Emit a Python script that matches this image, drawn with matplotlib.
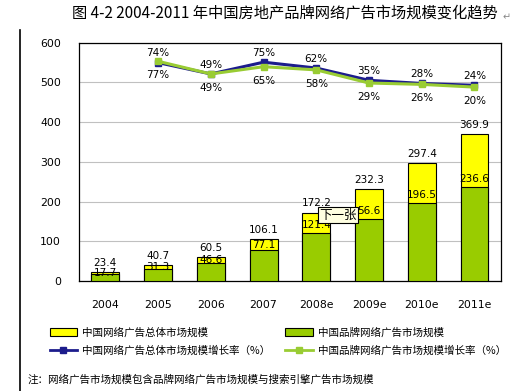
import matplotlib.pyplot as plt
import numpy as np
from matplotlib.patches import Patch
from matplotlib.lines import Line2D

plt.rcParams['font.family'] = ['Noto Sans CJK SC', 'DejaVu Sans']

years = ['2004', '2005', '2006', '2007', '2008e', '2009e', '2010e', '2011e']
total = [23.4, 40.7, 60.5, 106.1, 172.2, 232.3, 297.4, 369.9]
brand = [17.7, 31.3, 46.6, 77.1, 121.4, 156.6, 196.5, 236.6]
total_growth = [np.nan, 74, 49, 75, 62, 35, 28, 24]
brand_growth = [np.nan, 77, 49, 65, 58, 29, 26, 20]
brand_labels = ['17.7', '31.3', '46.6', '77.1', '121.4', '56.6', '196.5', '236.6']

YELLOW = '#FFFF00'
GREEN = '#99CC00'
NAVY = '#1C1C8C'
LGREEN = '#99CC33'

fig = plt.figure(figsize=(5.28, 3.91), dpi=100)
ax = fig.add_axes([0.1496, 0.2813, 0.799, 0.6095])
x = np.arange(len(years))
w = 0.53

ax.bar(x, total, w, color=YELLOW, edgecolor='black', linewidth=0.8, zorder=2)
ax.bar(x, brand, w, color=GREEN, edgecolor='black', linewidth=0.8, zorder=3)
ax.set_xlim(-0.5, len(years) - 0.5)
ax.set_ylim(0, 600)
ax.set_yticks(range(0, 700, 100))
ax.yaxis.grid(True, color='#C0C0C0', linewidth=0.8, zorder=0)
ax.set_axisbelow(True)
ax.tick_params(axis='both', length=0, labelsize=7.8, colors='black')
ax.tick_params(axis='x', pad=14)
ax.tick_params(axis='y', pad=13)
ax.set_xticks(x)
ax.set_xticklabels(years, family='DejaVu Sans')
for lab in ax.get_yticklabels():
    lab.set_family('DejaVu Sans')
for s in ax.spines.values():
    s.set_linewidth(0.9)

for i in range(len(years)):
    ax.annotate(f'{total[i]}', (x[i], total[i]), xytext=(0, 3), textcoords='offset points',
                ha='center', va='bottom', fontsize=7.5, family='DejaVu Sans', zorder=5)
    ty = brand[i] + min(0.5 * (total[i] - brand[i]), 20)
    ax.text(x[i], ty, brand_labels[i], ha='center', va='center', fontsize=7.5,
            family='DejaVu Sans', zorder=5)

ax2 = ax.twinx()
ax2.set_ylim(-408, 118)
ax2.set_yticks([])
for s in ax2.spines.values():
    s.set_visible(False)
ax2.plot(x, total_growth, color=NAVY, linewidth=2.2, marker='s', markersize=4, zorder=3)
ax2.plot(x, brand_growth, color=LGREEN, linewidth=2.2, marker='s', markersize=4, zorder=4)
for i in range(1, len(years)):
    ax2.annotate(f'{total_growth[i]}%', (x[i], total_growth[i]), xytext=(0, 3),
                 textcoords='offset points', ha='center', va='bottom', fontsize=7.5,
                 family='DejaVu Sans')
    ax2.annotate(f'{brand_growth[i]}%', (x[i], brand_growth[i]), xytext=(0, -6.5),
                 textcoords='offset points', ha='center', va='top', fontsize=7.5,
                 family='DejaVu Sans')

# popup box from the screenshot
fig.text(338 / 528, 1 - 215 / 391, '下一张', ha='center', va='center', fontsize=9,
         bbox=dict(boxstyle='square,pad=0.12', facecolor='#FFFFE1', edgecolor='black', linewidth=0.8),
         zorder=10)

fig.text(0.54, 1 - 14 / 391, '图 4-2 2004-2011 年中国房地产品牌网络广告市场规模变化趋势',
         ha='center', va='center', fontsize=11)
fig.text(0.951, 1 - 17 / 391, '↵', ha='left', va='center', fontsize=7, color='#888888',
         family='DejaVu Sans')

# left frame line
fig.add_artist(Line2D([20 / 528, 20 / 528], [0, 1 - 30 / 391], color='black', linewidth=1.2))

handles = [
    Patch(facecolor=YELLOW, edgecolor='black', linewidth=0.8),
    Line2D([], [], color=NAVY, linewidth=2, marker='s', markersize=4),
    Patch(facecolor=GREEN, edgecolor='black', linewidth=0.8),
    Line2D([], [], color=LGREEN, linewidth=2, marker='s', markersize=4),
]
names = ['中国网络广告总体市场规模', '中国网络广告总体市场规模增长率（%）',
         '中国品牌网络广告市场规模', '中国品牌网络广告市场规模增长率（%）']
fig.legend(handles, names, ncol=2, loc='upper left', bbox_to_anchor=(40 / 528, 1 - 318 / 391),
           frameon=False, fontsize=7.6, handlelength=2.6, handleheight=0.7,
           columnspacing=1.4, labelspacing=0.75, handletextpad=0.5)

fig.text(28 / 528, 1 - 380 / 391, '注：网络广告市场规模包含品牌网络广告市场规模与搜索引擎广告市场规模',
         ha='left', va='center', fontsize=7.6)

fig.savefig('out.png', dpi=100)
